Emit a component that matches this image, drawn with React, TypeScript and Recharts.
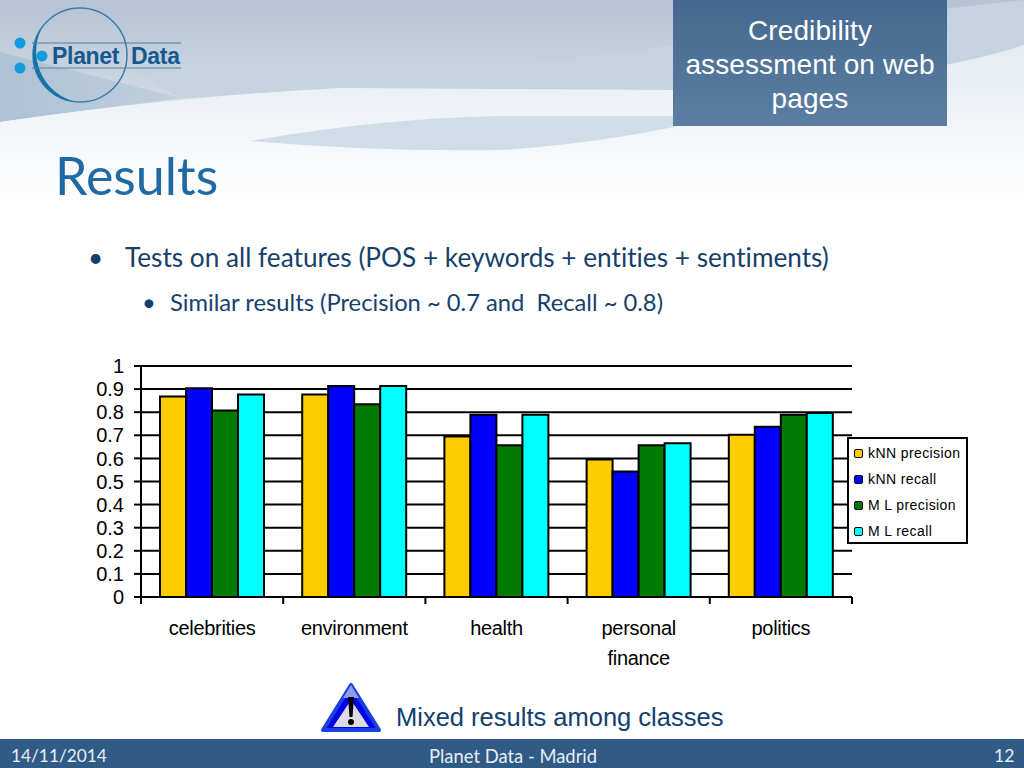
import {
  BarChart,
  Bar,
  XAxis,
  YAxis,
  CartesianGrid,
  Legend,
} from "recharts";

const categories = ["celebrities", "environment", "health", "personal finance", "politics"];
const knnPrecision = [0.868, 0.877, 0.695, 0.595, 0.702];
const knnRecall = [0.904, 0.913, 0.789, 0.543, 0.737];
const mlPrecision = [0.807, 0.834, 0.657, 0.657, 0.789];
const mlRecall = [0.877, 0.913, 0.789, 0.666, 0.797];
const yTicks = [0, 0.1, 0.2, 0.3, 0.4, 0.5, 0.6, 0.7, 0.8, 0.9, 1];
const edgeTicks = [0, 1, 2, 3, 4, 5];

const seriesList = [
  { key: "knnPrecision", name: "kNN precision", color: "#ffcc00" },
  { key: "knnRecall", name: "kNN recall", color: "#0000ff" },
  { key: "mlPrecision", name: "M L precision", color: "#007a00" },
  { key: "mlRecall", name: "M L recall", color: "#00ffff" },
];

const data = categories.map((category, i) => ({
  category,
  edge: i,
  knnPrecision: knnPrecision[i],
  knnRecall: knnRecall[i],
  mlPrecision: mlPrecision[i],
  mlRecall: mlRecall[i],
}));

const ARIAL = "'Liberation Sans', Arial, sans-serif";
const CALIBRI = "Lato, 'Open Sans', sans-serif";

function CategoryTick({ x, y, payload }: any) {
  const words = payload.value === "personal finance" ? ["personal", "finance"] : [payload.value];
  return (
    <text x={x} y={y} textAnchor="middle" fontFamily={ARIAL} fontSize={20} fill="#000" letterSpacing={-0.3}>
      {words.map((w: string, i: number) => (
        <tspan key={w} x={x} y={y + 30 * i + 29}>
          {w}
        </tspan>
      ))}
    </text>
  );
}

function ChartLegend({ payload }: any) {
  return (
    <div
      style={{
        width: 117,
        height: 103,
        background: "#fff",
        border: "2px solid #000",
        fontFamily: ARIAL,
        fontSize: 14,
        letterSpacing: 0.4,
        color: "#000",
        boxSizing: "content-box",
      }}
    >
      {payload?.map((entry: any, i: number) => (
        <div
          key={entry.value}
          style={{
            position: "absolute",
            left: 7,
            top: 6 + i * 26,
            height: 20,
            display: "flex",
            alignItems: "center",
            whiteSpace: "nowrap",
          }}
        >
          <span
            style={{
              width: 7,
              height: 7,
              marginRight: 5,
              background: entry.color,
              border: "1.5px solid #000",
              borderRadius: 2,
              display: "inline-block",
            }}
          />
          {entry.value}
        </div>
      ))}
    </div>
  );
}

function Backdrop() {
  return (
    <svg width={1024} height={768} style={{ position: "absolute", left: 0, top: 0 }}>
      <defs>
        <linearGradient id="sky" x1="0" y1="0" x2="0" y2="1">
          <stop offset="0%" stopColor="#b5c3d4" />
          <stop offset="100%" stopColor="#d2dce6" />
        </linearGradient>
        <linearGradient id="haze" x1="0" y1="0" x2="0" y2="1">
          <stop offset="0%" stopColor="#e4ebf2" />
          <stop offset="100%" stopColor="#ffffff" />
        </linearGradient>
        <linearGradient id="wedge" x1="0" y1="0" x2="1" y2="0">
          <stop offset="0%" stopColor="#adc2d6" />
          <stop offset="100%" stopColor="#c0cfdd" />
        </linearGradient>
        <linearGradient id="box" x1="0" y1="0" x2="0" y2="1">
          <stop offset="0%" stopColor="#44688f" />
          <stop offset="100%" stopColor="#5c7ea2" />
        </linearGradient>
      </defs>
      <rect width={1024} height={110} fill="url(#sky)" />
      <path d="M130 66 Q300 74 450 68 Q600 60 700 40 Q880 15 1024 0 L1024 45 Q900 85 673 90 L340 88 L180 98 Z" fill="#c5d2e0" />
      <path d="M0 52 L180 98 L0 122 Z" fill="url(#wedge)" />
      <path d="M0 122 Q180 96 340 88 L673 90 Q900 85 1024 45 L1024 205 L0 205 Z" fill="url(#haze)" />
      <path d="M250 141 Q380 118 503 116 L720 116 Q620 142 503 150 Q370 152 250 141 Z" fill="#d0dde9" />
      <rect x={673} y={0} width={274} height={126} fill="url(#box)" />
      <rect x={0} y={739} width={1024} height={29} fill="#2f5b86" />

      {/* logo */}
      <circle cx={80} cy={55} r={47} fill="none" stroke="#3f7da6" strokeWidth={1.5} />
      <path d="M38 34 A47 47 0 0 0 76 102 A52 52 0 0 1 44 24 Z" fill="#1273ab" />
      <line x1={32} y1={43} x2={181} y2={43} stroke="#5b7f9a" strokeWidth={1} />
      <line x1={32} y1={68} x2={181} y2={68} stroke="#5b7f9a" strokeWidth={1} />
      <circle cx={20} cy={43} r={5.5} fill="#159bdc" />
      <circle cx={20} cy={68} r={5.5} fill="#159bdc" />
      <circle cx={42} cy={56} r={5.5} fill="#159bdc" />
      <text x={52} y={64} fontFamily={ARIAL} fontSize={23} fontWeight={700} fill="#15598f" letterSpacing={-0.3}>
        Planet
      </text>
      <text x={131} y={64} fontFamily={ARIAL} fontSize={23} fontWeight={700} fill="#15598f" letterSpacing={-0.3}>
        Data
      </text>

      {/* warning sign */}
      <path d="M351 685 L379 730 L323 730 Z" fill="#0000e6" stroke="#1a3fe0" strokeWidth={4} strokeLinejoin="round" />
      <path d="M351 685 L359 698 L343 698 Z" fill="#8f9cf0" />
      <path d="M351 700 L369 727 L333 727 Z" fill="#dcdce0" />
      <path d="M348 697 L354 697 L352.5 717 L349.5 717 Z" fill="#000" />
      <circle cx={351} cy={722} r={3} fill="#000" />
    </svg>
  );
}

function Label({ x, y, size, color, family, children }: any) {
  return (
    <div
      style={{
        position: "absolute",
        left: x,
        top: y,
        fontSize: size,
        color,
        fontFamily: family,
        lineHeight: 1.25,
        whiteSpace: "nowrap",
        fontVariantLigatures: "none",
      }}
    >
      {children}
    </div>
  );
}

export default function App() {
  return (
    <div style={{ position: "absolute", left: 0, top: 0, width: 1024, height: 768, background: "#fff", overflow: "hidden" }}>
      <Backdrop />
      <div
        style={{
          position: "absolute",
          left: 673,
          top: 14,
          width: 274,
          textAlign: "center",
          color: "#fff",
          fontFamily: ARIAL,
          fontSize: 28,
          lineHeight: "34px",
          letterSpacing: 0.1,
        }}
      >
        Credibility
        <br />
        assessment on web
        <br />
        pages
      </div>
      <Label x={55} y={143} size={52} color="#1f6aa3" family={CALIBRI}>Results</Label>
      <Label x={88} y={241} size={26.2} color="#173f6b" family={CALIBRI}>•</Label>
      <Label x={125} y={241} size={26.2} color="#173f6b" family={CALIBRI}>
        Tests on all features (POS + keywords + entities + sentiments)
      </Label>
      <Label x={142} y={288} size={23.75} color="#173f6b" family={CALIBRI}>•</Label>
      <Label x={170} y={288} size={23.75} color="#173f6b" family={CALIBRI}>
        Similar results (Precision ~ 0.7 and&nbsp; Recall ~ 0.8)
      </Label>
      <Label x={396} y={702} size={25.5} color="#10406f" family={ARIAL}>Mixed results among classes</Label>
      <Label x={11} y={745} size={17.3} color="#e8eef5" family={CALIBRI}>14/11/2014</Label>
      <Label x={429} y={745} size={18.4} color="#e8eef5" family={CALIBRI}>Planet Data - Madrid</Label>
      <Label x={994} y={745} size={17.5} color="#e8eef5" family={CALIBRI}>12</Label>

      <div style={{ position: "absolute", left: 80, top: 350 }}>
        <BarChart
          width={900}
          height={350}
          data={data}
          margin={{ top: 16, right: 128, left: 0, bottom: 0 }}
          barGap={0}
          barCategoryGap={19}
        >
          <CartesianGrid vertical={false} xAxisId="axisEdges" stroke="#000" strokeWidth={2} />
          {/* tick marks sit on the category edges, so they get their own numeric axis */}
          <XAxis
            xAxisId="axisEdges"
            dataKey="edge"
            type="number"
            domain={[0, 5]}
            ticks={edgeTicks}
            interval={0}
            height={1}
            tickFormatter={() => ""}
            tickSize={7}
            tickLine={{ stroke: "#000", strokeWidth: 2 }}
            axisLine={{ stroke: "#000", strokeWidth: 2 }}
          />
          <XAxis
            xAxisId="cat"
            dataKey="category"
            interval={0}
            height={102}
            tick={<CategoryTick />}
            tickLine={false}
            axisLine={false}
          />
          <YAxis
            width={61}
            domain={[0, 1]}
            ticks={yTicks}
            interval={0}
            tickSize={7}
            tickMargin={10}
            tick={{ fontSize: 20, fontFamily: ARIAL, fill: "#000" }}
            tickLine={{ stroke: "#000", strokeWidth: 2 }}
            axisLine={{ stroke: "#000", strokeWidth: 2 }}
          />
          {seriesList.map((s) => (
            <Bar
              key={s.key}
              xAxisId="cat"
              dataKey={s.key}
              name={s.name}
              fill={s.color}
              stroke="#000"
              strokeWidth={2}
              isAnimationActive={false}
            />
          ))}
          <Legend
            layout="vertical"
            align="center"
            verticalAlign="middle"
            itemSorter={null}
            content={<ChartLegend />}
            wrapperStyle={{ left: 767, top: 87, width: 121, height: 107 }}
          />
        </BarChart>
      </div>
    </div>
  );
}
